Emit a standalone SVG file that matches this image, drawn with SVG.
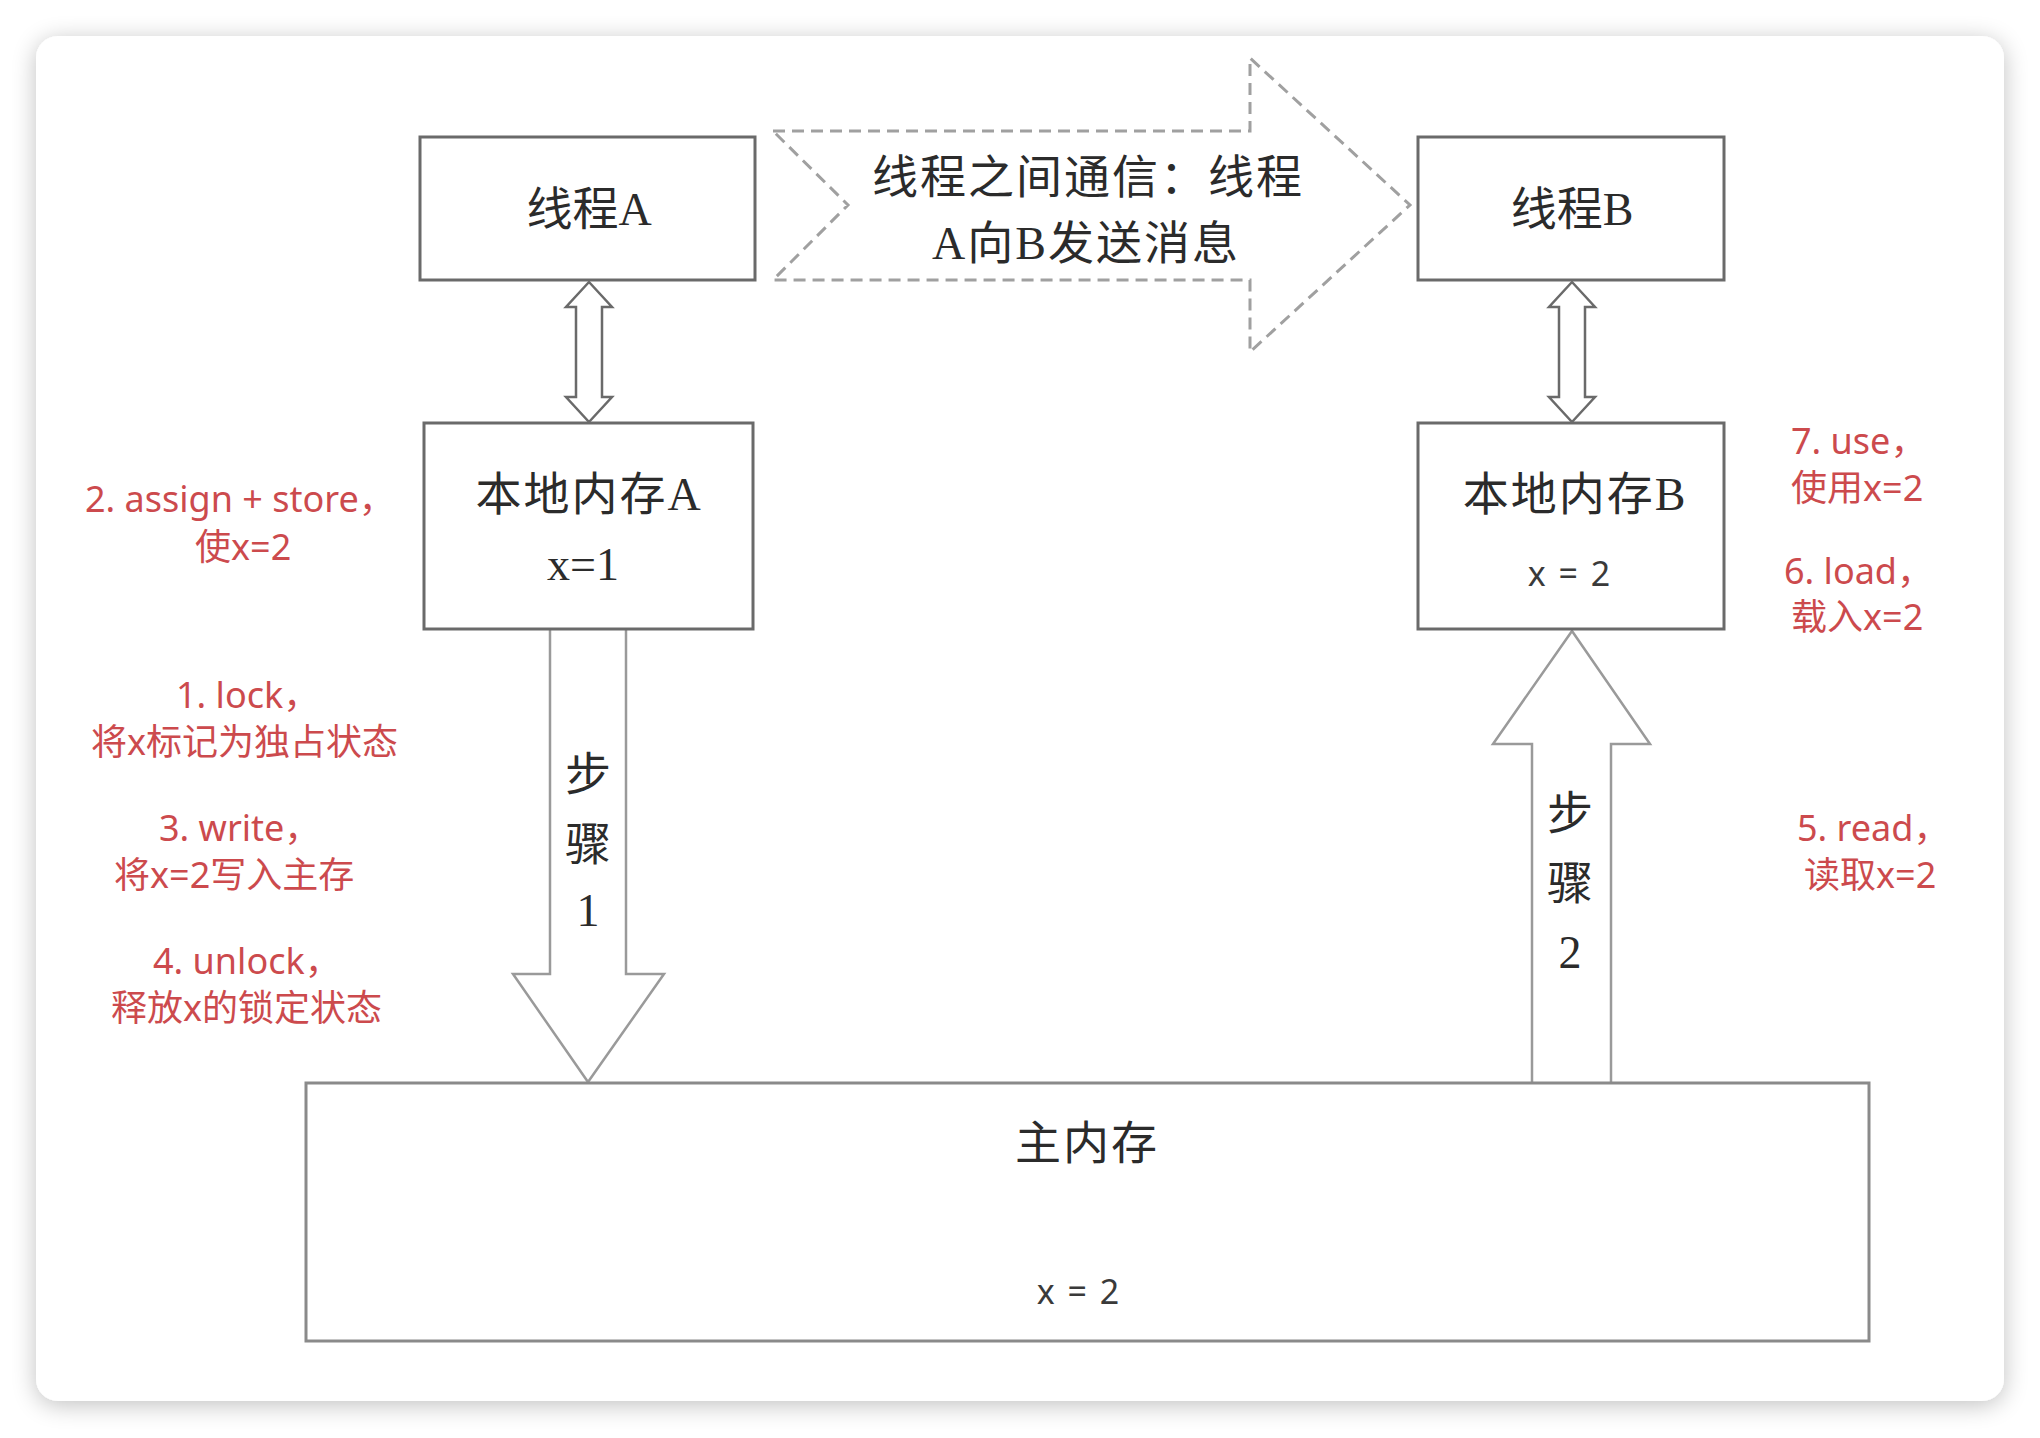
<svg xmlns="http://www.w3.org/2000/svg" width="2040" height="1438" viewBox="0 0 2040 1438">
  <defs>
    <filter id="shadow" x="-5%" y="-5%" width="110%" height="110%">
      <feGaussianBlur in="SourceAlpha" stdDeviation="12"/>
      <feOffset dx="0" dy="4" result="b"/>
      <feComponentTransfer><feFuncA type="linear" slope="0.25"/></feComponentTransfer>
      <feMerge><feMergeNode/><feMergeNode in="SourceGraphic"/></feMerge>
    </filter>
    <style>
      .box { fill: #ffffff; stroke: #6a6a6a; stroke-width: 3; }
      .main { fill: #ffffff; stroke: #8a8a8a; stroke-width: 3; }
      .dbl { fill: #ffffff; stroke: #6a6a6a; stroke-width: 2.5; stroke-linejoin: miter; }
      .step { fill: #ffffff; stroke: #9a9a9a; stroke-width: 2.5; }
      .dash { fill: #ffffff; stroke: #a0a0a0; stroke-width: 3; stroke-dasharray: 12 7; }
      .serif { font-family: "Liberation Serif", "Noto Sans CJK SC", serif; fill: #2b2b2b; font-size: 46px; text-anchor: middle; }
      .sans { font-family: "Noto Sans", "Noto Sans CJK SC", sans-serif; fill: #3a3a3a; font-size: 34px; text-anchor: middle; }
      .red { font-family: "Noto Sans", "Noto Sans CJK SC", sans-serif; fill: #cc4a4d; font-size: 36px; }
    </style>
  </defs>

  <rect x="0" y="0" width="2040" height="1438" fill="#ffffff"/>
  <rect x="36" y="36" width="1968" height="1365" rx="22" ry="22" fill="#ffffff" filter="url(#shadow)"/>

  <g id="connectors">
    <path id="msg-arrow" class="dash" d="M773,131 L1250,131 L1250,58 L1410,205 L1250,352 L1250,280 L773,280 L848,205 Z"/>
    <path id="dbl-a" class="dbl" d="M589,282 L612,307 L602,307 L602,397 L612,397 L589,422 L566,397 L576,397 L576,307 L566,307 Z"/>
    <path id="dbl-b" class="dbl" d="M1572,282 L1595,307 L1585,307 L1585,397 L1595,397 L1572,422 L1549,397 L1559,397 L1559,307 L1549,307 Z"/>
    <path id="step1" class="step" d="M550,629 L550,974 L513,974 L588,1082 L664,974 L626,974 L626,629"/>
    <path id="step2" class="step" d="M1532,1083 L1532,744 L1493,744 L1572,631 L1650,744 L1611,744 L1611,1083"/>
    <text class="serif" letter-spacing="2"><tspan x="1088" y="193">线程之间通信：线程</tspan><tspan x="1086" y="259">A向B发送消息</tspan></text>
    <text class="serif" font-size="42"><tspan x="588" y="790">步</tspan><tspan x="588" y="860">骤</tspan><tspan x="588" y="926">1</tspan></text>
    <text class="serif" font-size="42"><tspan x="1570" y="829">步</tspan><tspan x="1570" y="899">骤</tspan><tspan x="1570" y="968">2</tspan></text>
  </g>

  <g id="thread-a">
    <rect class="box" x="420" y="137" width="335" height="143"/>
    <text class="serif" x="589" y="225">线程A</text>
  </g>
  <g id="thread-b">
    <rect class="box" x="1418" y="137" width="306" height="143"/>
    <text class="serif" x="1572" y="225">线程B</text>
  </g>
  <g id="local-a">
    <rect class="box" x="424" y="423" width="329" height="206"/>
    <text class="serif" x="589" y="510" letter-spacing="2">本地内存A</text>
    <text class="serif" x="583" y="580">x=1</text>
  </g>
  <g id="local-b">
    <rect class="box" x="1418" y="423" width="306" height="206"/>
    <text class="serif" x="1575" y="510" letter-spacing="2">本地内存B</text>
    <text class="sans" x="1570" y="586" letter-spacing="2">x = 2</text>
  </g>
  <g id="main-memory">
    <rect class="main" x="306" y="1083" width="1563" height="258"/>
    <text class="serif" x="1087" y="1159" letter-spacing="2">主内存</text>
    <text class="sans" x="1079" y="1304" letter-spacing="2">x = 2</text>
  </g>

  <g id="notes-left">
    <text class="red"><tspan x="85" y="512">2. assign + store，</tspan><tspan x="195" y="560">使x=2</tspan></text>
    <text class="red"><tspan x="176" y="708">1. lock，</tspan><tspan x="91" y="755">将x标记为独占状态</tspan></text>
    <text class="red"><tspan x="159" y="841">3. write，</tspan><tspan x="114" y="888">将x=2写入主存</tspan></text>
    <text class="red"><tspan x="153" y="974">4. unlock，</tspan><tspan x="111" y="1021">释放x的锁定状态</tspan></text>
  </g>
  <g id="notes-right">
    <text class="red"><tspan x="1791" y="454">7. use，</tspan><tspan x="1791" y="501">使用x=2</tspan></text>
    <text class="red"><tspan x="1784" y="584">6. load，</tspan><tspan x="1791" y="630">载入x=2</tspan></text>
    <text class="red"><tspan x="1797" y="841">5. read，</tspan><tspan x="1804" y="888">读取x=2</tspan></text>
  </g>
</svg>
